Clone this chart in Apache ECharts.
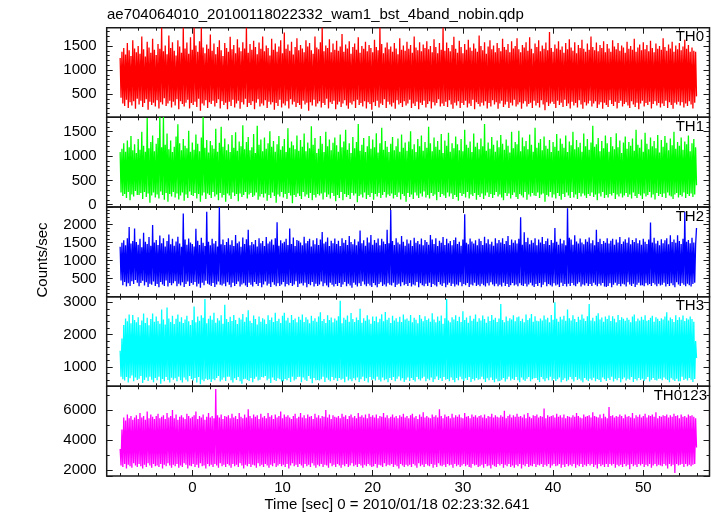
<!DOCTYPE html>
<html><head><meta charset="utf-8">
<script src="https://cdn.jsdelivr.net/npm/echarts@6/dist/echarts.min.js"></script>
<style>html,body{margin:0;padding:0;background:#fff}#c{width:717px;height:516px}</style>
</head><body><div id="c"></div>
<script>
const chartTitle = 'ae704064010_20100118022332_wam1_bst_4band_nobin.qdp';
const xAxisTitle = 'Time [sec] 0 = 2010/01/18 02:23:32.641';
const yAxisTitle = 'Counts/sec';
const bandNames = ['TH0', 'TH1', 'TH2', 'TH3', 'TH0123'];
const bandColors = ['#ff0000', '#00ff00', '#0000ff', '#00ffff', '#ff00ff'];
const timeStart = -8.0;
const timeStep = 0.1;

const th0 = [
1250,420,1380,300,1460,250,1320,380,1560,210,1410,330,1290,260,1620,350,1450,190,1370,400,
1500,280,1340,360,1700,230,1430,310,1280,390,1590,170,1470,340,1360,270,1650,320,1420,240,
1310,370,1540,200,1440,330,1880,280,1390,410,1510,250,1330,300,1720,360,1460,220,1580,340,
1400,260,1300,390,1620,180,1490,350,1360,290,1880,240,1450,320,1570,380,1340,200,1680,310,
1420,270,1880,340,1510,230,1380,400,1600,150,1880,300,1470,260,1350,370,1530,210,1440,330,
1740,290,1400,360,1550,240,1330,310,1480,390,1620,200,1410,350,1290,270,1560,320,1460,180,
1380,340,1690,250,1430,380,1520,220,1350,300,1640,360,1470,190,1390,330,1580,280,1450,400,
1880,230,1360,310,1540,270,1420,350,1610,180,1480,320,1330,390,1570,240,1440,300,1700,260,
1390,370,1510,210,1460,340,1300,280,1650,330,1420,170,1550,310,1380,250,1490,380,1620,220,
1350,300,1780,260,1440,350,1530,200,1400,390,1590,280,1320,340,1480,230,1660,310,1410,270,
1520,190,1450,360,1370,280,1620,320,1490,150,1560,330,1410,260,1340,380,1700,240,1470,300,
1430,350,1580,220,1880,310,1390,270,1510,400,1460,200,1640,330,1370,290,1550,360,1420,180,
1610,280,1400,340,1490,230,1750,300,1380,370,1530,260,1450,190,1600,320,1340,280,1480,350,
1550,210,1420,380,1680,270,1360,310,1500,240,1440,350,1590,200,1390,330,1520,290,1460,170,
1370,330,1630,250,1480,360,1410,220,1880,300,1540,270,1350,390,1470,210,1570,340,1430,280,
1490,240,1380,320,1560,190,1450,370,1330,280,1660,310,1420,230,1510,350,1400,260,1590,300,
1440,380,1520,210,1360,300,1700,250,1470,340,1410,180,1580,320,1390,270,1530,360,1460,220,
1600,290,1430,350,1500,200,1370,330,1640,260,1480,310,1350,390,1560,240,1420,300,1880,250,
1400,340,1570,230,1460,370,1390,280,1520,190,1690,320,1440,260,1360,350,1610,210,1480,310,
1350,270,1540,360,1420,220,1630,300,1470,250,1400,380,1550,180,1450,330,1380,290,1720,240,
1500,320,1410,260,1580,350,1340,200,1490,310,1620,240,1430,370,1510,280,1370,330,1560,190,
1460,300,1390,360,1650,230,1480,280,1420,340,1540,210,1370,320,1600,260,1450,380,1500,240,
1660,280,1430,330,1370,190,1520,300,1470,350,1580,240,1400,290,1680,320,1440,210,1350,360,
1550,260,1480,310,1620,220,1390,370,1510,280,1440,160,1570,330,1410,250,1790,300,1460,340,
1380,290,1530,210,1450,360,1600,270,1420,320,1490,230,1360,380,1560,250,1430,300,1640,200,
1470,340,1400,260,1580,310,1350,220,1520,370,1460,280,1630,190,1440,330,1380,260,1550,300,
1420,360,1700,240,1480,300,1410,350,1570,210,1390,280,1520,330,1460,190,1600,320,1370,270,
1540,230,1450,370,1380,290,1620,250,1490,340,1430,200,1560,310,1400,360,1510,240,1470,290,
1360,330,1590,260,1440,210,1500,350,1420,280,1650,230,1380,320,1470,180,1530,300,1410,360,
1580,240,1430,310,1520,270,1390,340,1610,200,1460,290,1370,350,1550,260,1440,310,1500,220,
1420,300,1660,250,1480,360,1400,210,1530,330,1450,270,1590,190,1380,320,1510,280,1430,340,
1560,260,1410,330,1490,220,1630,300,1440,250,1520,350,1380,280,1470,200,1400,320,1380,450
];
const th1 = [
1080,250,1150,180,1260,220,1090,140,1320,260,1180,90,1410,210,1120,170,1240,280,1060,200,
1350,200,1130,240,1500,120,1210,260,1090,160,1780,230,1160,40,1290,190,1420,250,1100,150,
1250,210,1370,130,1800,270,1180,200,1800,100,1230,240,1460,60,1140,220,1320,170,1080,260,
1190,150,1400,230,1650,110,1260,190,1120,250,1350,80,1210,210,1160,140,1520,270,1090,200,
1280,180,1130,240,1440,130,1250,220,1100,60,1380,190,1800,250,1170,120,1330,230,1070,200,
1310,140,1220,260,1150,170,1560,210,1090,90,1270,240,1600,150,1190,200,1360,60,1120,230,
1240,190,1080,120,1430,250,1170,180,1490,220,1110,70,1300,230,1200,160,1630,200,1140,260,
1290,130,1390,210,1120,240,1180,160,1450,190,1060,250,1620,100,1230,170,1340,220,1100,150,
1380,230,1150,80,1260,200,1510,140,1190,250,1310,180,1090,40,1240,210,1410,170,1130,260,
1200,150,1350,220,1080,120,1570,240,1170,190,1300,30,1220,200,1140,160,1420,230,1110,180,
1330,120,1190,260,1460,170,1100,210,1280,140,1160,240,1610,90,1230,200,1370,150,1060,220,
1150,190,1410,230,1250,110,1080,250,1500,160,1200,210,1340,130,1120,240,1270,180,1380,70,
1220,200,1090,140,1440,260,1180,90,1300,220,1540,160,1130,200,1260,120,1060,240,1390,190,
1160,230,1290,50,1660,180,1110,210,1230,150,1370,250,1080,120,1200,200,1410,160,1150,240,
1340,100,1180,220,1470,170,1070,240,1260,140,1580,200,1130,260,1310,150,1190,210,1080,180,
1250,230,1390,130,1120,200,1200,160,1360,250,1090,110,1440,220,1170,180,1280,60,1110,240,
1300,160,1510,210,1140,120,1240,250,1080,190,1350,140,1200,230,1420,170,1110,270,1290,150,
1170,200,1600,130,1260,240,1100,180,1380,210,1190,90,1310,260,1130,160,1450,220,1060,190,
1320,140,1210,250,1480,170,1090,230,1260,120,1160,200,1400,160,1240,80,1120,240,1350,180,
1100,220,1540,150,1230,260,1170,130,1300,210,1080,180,1460,240,1190,100,1270,200,1140,160,
1360,230,1200,120,1660,190,1110,250,1280,160,1150,220,1390,140,1230,200,1090,260,1320,170,
1180,210,1430,150,1250,90,1130,240,1340,180,1210,230,1070,130,1500,200,1160,250,1290,160,
1240,120,1520,220,1100,190,1380,150,1200,260,1310,100,1140,210,1440,170,1230,240,1090,190,
1580,180,1170,250,1270,140,1350,210,1120,230,1400,60,1210,200,1150,170,1330,260,1080,150,
1290,210,1190,130,1450,240,1110,180,1360,100,1250,220,1170,160,1420,250,1080,190,1300,140,
1220,260,1500,150,1140,210,1330,120,1180,240,1270,170,1090,230,1460,190,1200,140,1350,220,
1130,180,1280,250,1620,160,1190,210,1240,90,1370,230,1100,170,1310,260,1160,140,1420,200,
1260,150,1090,220,1390,190,1200,240,1140,120,1470,210,1180,170,1320,230,1060,150,1280,190,
1400,240,1150,160,1290,210,1210,130,1360,250,1110,180,1540,140,1230,220,1170,190,1340,120,
1090,230,1480,170,1250,200,1140,260,1380,150,1200,210,1310,110,1160,240,1430,180,1070,220,
1330,160,1190,230,1410,140,1270,250,1120,190,1360,170,1220,120,1500,210,1150,240,1290,150,
1210,200,1380,170,1130,250,1300,140,1240,220,1420,180,1100,230,1260,160,1350,210,1180,400
];
const th2 = [
1380,450,1490,320,1560,410,1420,280,1620,370,1930,300,1470,430,1540,350,1890,460,1510,390,
1440,290,1600,380,1370,440,1770,310,1520,400,1460,270,1650,360,1410,330,1980,420,1500,300,
1570,350,1430,260,1690,410,1480,340,1620,300,1390,450,1540,280,1720,380,1450,320,1600,370,
1410,430,1530,290,1660,360,1470,310,1380,400,2300,270,1580,350,1440,420,1610,300,1500,380,
1460,330,1390,410,1880,280,1550,360,1430,250,1630,390,1490,320,1400,440,2350,360,1520,330,
1420,300,1600,380,1470,270,1540,340,1390,420,2480,330,1450,310,1580,360,1430,290,1510,400,
1620,330,1440,260,1560,390,1400,300,1710,350,1480,420,1530,280,1380,340,1640,370,1460,310,
1590,270,1850,390,1420,330,1510,280,1450,410,1570,350,1390,300,1620,380,1480,260,1540,340,
1400,420,1650,310,1470,360,1530,270,1580,400,1440,330,1620,290,2060,370,1410,300,1560,340,
1480,410,1520,280,1600,350,1430,320,1890,380,1460,300,1640,340,1400,430,1570,270,1550,360,
1500,370,1420,310,1660,390,1480,260,1540,350,1600,320,1390,410,1560,280,1450,360,1620,300,
1430,340,1580,420,1790,290,1470,370,1520,310,1640,260,1400,390,1550,330,1480,280,1610,350,
1460,300,1550,380,1400,270,1620,340,1490,410,1570,290,1430,360,1680,310,1510,250,1450,390,
1590,330,1420,280,1530,370,1830,300,1480,420,1560,340,1410,290,1640,360,1500,310,1710,270,
1440,380,1570,320,1490,260,1610,350,1420,400,1600,300,1530,340,1460,280,1850,370,1480,330,
2400,310,1540,390,1430,270,1620,330,1500,360,1450,290,1680,400,1520,320,1410,350,1580,300,
1470,380,1560,280,1400,340,1630,310,1490,410,1540,260,1450,370,1610,320,1420,290,1570,360,
1510,300,1440,390,1710,270,1580,350,1460,320,1620,280,1400,410,1550,340,1490,300,1650,370,
1430,260,1600,330,1480,390,1540,300,1420,360,1570,280,1640,340,1460,310,1520,400,1410,290,
1580,350,2280,320,1490,380,1450,270,1610,340,1530,310,1470,390,1560,300,1420,330,1600,290,
1540,360,1430,320,1660,280,1480,370,1590,310,1450,400,1520,340,1410,290,1620,360,1480,290,
1570,330,1500,280,1620,390,1460,300,1540,350,1680,270,1430,320,1580,380,1490,310,1560,340,
1470,290,1600,370,2200,320,1440,300,1780,360,1510,280,1630,340,1450,390,1560,310,1490,270,
1620,350,1420,300,1580,380,1500,260,1650,330,1460,400,1540,290,1610,350,1430,320,1570,280,
1490,370,1900,310,1520,340,1440,270,1600,390,1470,300,1560,350,1420,280,2450,360,1630,300,
1580,380,1440,320,1700,290,1530,360,1470,400,1610,280,1500,340,1450,310,1590,370,1520,300,
1640,350,1480,300,1560,390,1420,330,1850,290,1510,360,1600,310,1460,380,1540,280,1490,270,
1620,300,1470,370,1550,260,1600,330,1440,390,1580,310,1500,350,1650,290,1460,360,1530,340,
1590,280,1490,400,1640,340,1450,300,1570,360,1510,270,1620,330,1480,390,1560,310,1440,320,
1600,290,1520,370,1460,320,1580,350,2050,300,1500,380,1630,340,1470,290,1550,360,1420,310,
1590,330,1480,390,1560,280,1620,350,1450,300,1700,370,1510,320,1580,260,1490,400,1700,340,
1540,300,1460,370,1600,330,2350,290,1520,360,1570,320,1480,280,1630,350,1500,390,1440,1900
];
const th3 = [
1500,700,1880,620,2300,580,2500,690,2410,520,2620,650,2350,740,2610,560,2450,680,2380,600,
2540,640,2300,720,2440,510,2650,600,2360,680,2520,570,2290,700,2480,610,2650,530,2400,660,
2560,590,2420,700,2340,480,2780,630,2470,560,2310,690,2840,600,2500,520,2390,670,2580,610,
2330,650,2490,560,2620,700,2400,590,2540,520,2360,680,2470,610,2580,550,2410,720,2300,630,
2450,580,2870,660,2380,520,2560,690,2430,470,2600,610,2520,560,3100,640,2350,600,2490,620,
2580,540,2460,620,2680,590,2370,660,2510,720,2440,550,2600,610,2340,680,2920,570,2480,700,
2390,700,2550,590,2420,520,2610,650,2450,600,2330,690,2520,560,2470,480,2640,620,2400,640,
2540,600,2750,570,2430,660,2360,530,2590,640,2480,700,2310,580,2560,610,2400,690,2510,680,
2470,720,2330,590,2600,640,2450,510,2530,680,2390,600,2680,570,2420,650,2490,620,2360,550,
2580,560,2680,630,2440,590,2520,660,2370,540,2610,700,2450,580,2500,620,2380,690,2550,700,
2460,530,2620,680,2390,610,2540,570,2470,720,2350,640,2580,500,2430,660,2510,590,2400,600,
2560,580,2690,620,2420,700,2480,540,2360,670,2600,610,2450,560,2530,690,2380,600,2500,650,
2440,570,2570,660,3050,610,2350,640,2520,530,2460,700,2590,580,2400,620,2670,560,2480,650,
2390,590,2530,680,2450,540,2800,620,2370,700,2510,570,2430,650,2600,520,2470,690,2340,600,
2560,640,2420,580,2560,700,2380,610,2490,550,2630,680,2410,590,2700,620,2460,530,2520,660,
2360,600,2580,690,2440,560,2510,640,2400,710,2550,580,2390,650,2620,540,2470,610,2500,680,
2430,570,2610,660,2380,600,2520,550,2460,690,2350,620,2610,580,2490,650,2410,700,2570,560,
2450,640,2500,590,2400,680,2660,540,2470,620,2380,710,2560,600,2430,650,2590,570,2340,690,
2510,610,3100,630,2440,560,2380,680,2540,600,2470,530,2600,660,2420,590,2550,700,2390,620,
2720,570,2450,650,2530,600,2370,690,2580,540,2430,630,2490,580,2620,660,2400,610,2510,620,
2440,700,2590,620,2480,540,2370,650,2560,590,2420,680,2610,600,2460,530,2520,640,2390,560,
2500,570,2950,610,2450,660,2380,550,2560,620,2430,700,2510,580,2470,640,2600,600,2410,690,
2540,590,2560,530,2420,680,2490,610,2380,570,2620,640,2450,690,2510,560,2640,620,2400,650,
2570,660,2430,600,2410,540,2500,690,2440,620,2590,560,2470,650,2520,590,2380,700,2610,580,
2460,640,3000,570,2490,620,2400,680,2550,530,2470,600,2580,650,2430,560,2780,610,2510,690,
2440,620,2600,550,2480,690,2390,600,2550,640,2460,580,2620,530,2500,660,2420,610,2570,570,
2950,640,2440,590,2520,670,2410,560,2580,630,2660,600,2470,540,2530,680,2400,620,2560,570,
2480,650,2590,600,2420,700,2570,550,2490,640,2380,590,2610,660,2450,530,2540,620,2490,680,
2430,580,2520,640,2460,610,2380,690,2560,540,2620,630,2410,580,2500,660,2440,600,2550,640,
2460,570,2600,620,2430,690,2450,550,2520,610,2580,660,2400,600,2540,580,2490,640,2420,640,
2510,590,2470,680,2560,620,2690,600,2440,530,2530,650,2480,610,2390,570,2600,640,2450,560,
2540,560,2460,700,2590,600,2420,640,2510,580,2470,660,2560,610,2480,540,2400,630,1800,1280
];
const th0123 = [
3400,2300,4700,2200,5500,2400,5300,2100,5700,2350,5450,2250,5600,2150,5350,2450,5500,2300,5650,2200,
5400,2400,5800,2250,5500,2100,5600,2350,5350,2200,5900,2450,5450,2300,5700,2150,5550,2400,5400,2250,
5600,2300,5750,2200,5450,2400,5550,2100,5650,2350,5400,2250,5800,2450,5500,2300,5600,2150,6000,2350,
5450,2250,5700,2400,5350,2150,5550,2300,5650,2200,5500,2450,5400,2350,5750,2100,5600,2300,5450,2250,
5550,2400,5650,2200,5900,2350,5400,2150,5600,2450,5500,2250,5700,2300,5350,2100,5550,2400,5800,2250,
5500,2350,5600,2200,5450,2400,7400,2300,5650,2150,5500,2450,5700,2250,5400,2350,5600,2200,5550,2400,
5650,2300,5450,2150,5750,2400,5500,2250,5600,2350,5400,2200,5800,2450,5550,2300,5450,2100,5700,2350,
5500,2250,6050,2400,5600,2200,5450,2350,5700,2300,5550,2150,5650,2450,5400,2250,5750,2350,5500,2200,
5600,2400,5450,2300,5800,2150,5550,2350,5650,2250,5400,2450,5700,2200,5500,2300,5600,2400,5900,2250,
5450,2350,5700,2200,5550,2400,5650,2100,5500,2300,5400,2450,5600,2250,5750,2350,5450,2200,5550,2400,
5800,2300,5500,2150,5650,2400,5450,2250,5700,2350,5550,2200,5600,2450,5400,2300,5750,2150,5500,2350,
5650,2250,5450,2400,5600,2200,5550,2350,6000,2300,5500,2150,5700,2450,5400,2250,5650,2350,5550,2200,
5500,2400,5600,2300,5450,2150,5750,2350,5550,2250,5650,2400,5400,2200,5600,2300,5700,2450,5500,2250,
5600,2350,5450,2200,5800,2400,5550,2300,5650,2150,5500,2350,5700,2250,5450,2400,5750,2300,5550,2200,
5650,2250,5500,2400,5700,2150,5450,2350,5600,2300,5550,2200,5800,2450,5500,2250,5650,2350,5450,2300,
5550,2400,5700,2200,5500,2350,5600,2250,5450,2100,5650,2400,5550,2300,5750,2200,5500,2350,5600,2250,
5450,2350,5650,2200,5750,2400,5500,2300,5600,2150,5400,2450,5700,2250,5550,2350,5850,2200,5500,2400,
5600,2300,5500,2250,5450,2400,5700,2150,5550,2350,5650,2200,5500,2450,6050,2300,5600,2250,5450,2350,
5700,2200,5550,2400,5600,2300,5450,2350,5750,2150,5500,2400,5650,2250,5550,2350,5700,2200,5500,2300,
5450,2400,5800,2250,5550,2350,5600,2200,5450,2150,5700,2400,5550,2300,5650,2350,5500,2200,5600,2250,
5650,2350,5500,2150,5700,2400,5450,2250,5600,2300,5550,2100,5750,2350,5500,2250,5650,2200,5550,2400,
5500,2300,5650,2400,5550,2150,5950,2350,5450,2250,5600,2400,5700,2200,5500,2300,5650,2150,5550,2350,
5750,2250,5550,2400,5600,2100,5500,2350,5700,2250,5450,2400,5800,2200,5550,2300,5450,2250,5650,2400,
5600,2200,5700,2350,5500,2300,5600,2400,5550,2200,6100,2350,5450,2250,5650,2400,5550,2150,5600,2300,
5650,2400,5500,2250,5750,2300,5550,2400,5650,2150,5500,2350,5700,2200,5450,2400,5600,2250,5550,2350,
5500,2250,5650,2400,5550,2150,5800,2350,5600,2250,5500,2400,5450,2200,5700,2350,5550,2250,5600,2400,
5650,2300,5500,2400,5850,2200,5600,2350,5550,2100,5500,2400,5700,2250,5450,2350,5750,2200,5550,2400,
5450,2200,6200,2400,5600,2300,5650,2400,5500,2150,5600,2350,5550,2250,5700,2350,5600,2200,5450,2400,
5700,2250,5550,2350,5600,2050,5500,2400,5800,2250,5450,2350,5650,2200,5550,2400,5700,2300,5500,2400,
5600,2200,5750,2350,5500,2250,5650,2400,5600,2150,5700,2300,5550,2400,5850,2250,5450,2350,5600,2300,
5550,2250,5650,2400,5600,2300,5700,2100,5500,2400,5650,2250,5550,2350,5750,1800,5600,2400,5650,2300,
5450,2350,5700,2400,5550,2200,5600,2400,5500,2250,5700,2350,5600,2250,5650,2350,5550,2400,5450,3500
];
const bandValues = [th0, th1, th2, th3, th0123];

const yRanges = [[13, 1881], [-47, 1794], [1, 2481], [403, 3173], [1600, 7580]];
const yMajorSteps = [500, 500, 500, 1000, 2000];
const yMinorSteps = [100, 100, 100, 200, 1000];
const xRange = [-9.49, 57.34];
const xMajorStep = 10;
const xMinorStep = 2;

// ---- layout / style ----
const FONT = '"Liberation Sans", Arial, Helvetica, sans-serif';
const INK = '#1a1a1a';
const plotLeft = 106.7, plotRight = 709.5, plotTop = 27.7, plotBottom = 476;
const panelH = (plotBottom - plotTop) / bandNames.length;
const labelRight = [13, 13, 13, 13, 10];

function isMult(v, s) { const r = v / s; return Math.abs(r - Math.round(r)) < 1e-6; }

const grids = [], xAxes = [], yAxes = [], series = [], titles = [];
titles.push({ text: chartTitle, left: 107, top: 7, padding: 0,
  textStyle: { fontFamily: FONT, fontSize: 15, fontWeight: 'normal', color: '#000' } });

bandNames.forEach((name, i) => {
  const top = plotTop + i * panelH;
  grids.push({ left: plotLeft, top: top, width: plotRight - plotLeft, height: panelH,
    show: true, borderColor: INK, borderWidth: 1.5, backgroundColor: 'rgba(0,0,0,0)' });
  ['bottom', 'top'].forEach(pos => {
    [[xMinorStep, 3, false], [xMajorStep, 6, true]].forEach(([step, len, major]) => {
      xAxes.push({
        type: 'value', gridIndex: i, position: pos, min: xRange[0], max: xRange[1],
        minInterval: step, maxInterval: step,
        splitNumber: Math.round((xRange[1] - xRange[0]) / step),
        axisLine: { show: false, onZero: false },
        axisTick: { show: true, inside: true, length: len, lineStyle: { color: INK, width: 1 } },
        splitLine: { show: false },
        axisLabel: { show: major && pos === 'bottom' && i === bandNames.length - 1,
          margin: 4, color: '#000', fontFamily: FONT, fontSize: 15,
          formatter: v => isMult(v, step) ? String(Math.round(v)) : '' }
      });
    });
  });
  ['left', 'right'].forEach(pos => {
    [[yMinorSteps[i], 3, false], [yMajorSteps[i], 6, true]].forEach(([step, len, major]) => {
      yAxes.push({
        type: 'value', gridIndex: i, position: pos, min: yRanges[i][0], max: yRanges[i][1],
        minInterval: step, maxInterval: step,
        splitNumber: Math.round((yRanges[i][1] - yRanges[i][0]) / step),
        axisLine: { show: false, onZero: false },
        axisTick: { show: true, inside: true, length: len, lineStyle: { color: INK, width: 1 } },
        splitLine: { show: false },
        axisLabel: { show: major && pos === 'left', margin: 10, color: '#000',
          fontFamily: FONT, fontSize: 15,
          formatter: v => isMult(v, step) ? String(Math.round(v)) : '' }
      });
    });
  });
  titles.push({ text: name, right: labelRight[i], top: top + 2, padding: 0,
    textStyle: { fontFamily: FONT, fontSize: 15, fontWeight: 'normal', color: '#000' } });
  series.push({
    type: 'line', name: name, xAxisIndex: i * 4 + 1, yAxisIndex: i * 4 + 1,
    data: bandValues[i].map((v, k) => [timeStart + k * timeStep, v]),
    showSymbol: false, symbol: 'none', sampling: null, clip: true, silent: true,
    lineStyle: { color: bandColors[i], width: 1.3, join: 'bevel' }, itemStyle: { color: bandColors[i] },
    z: 3
  });
});

const chart = echarts.init(document.getElementById('c'), null, { renderer: 'canvas' });
chart.setOption({
  animation: false,
  backgroundColor: '#ffffff',
  title: titles,
  grid: grids,
  xAxis: xAxes,
  yAxis: yAxes,
  series: series,
  graphic: [
    { type: 'text', x: 397, y: 505, silent: true,
      style: { text: xAxisTitle, textAlign: 'center', textVerticalAlign: 'middle',
        font: '15px ' + FONT, fill: '#000' } },
    { type: 'text', x: 43, y: 260, rotation: Math.PI / 2, silent: true,
      style: { text: yAxisTitle, textAlign: 'center', textVerticalAlign: 'middle',
        font: '15px ' + FONT, fill: '#000' } }
  ]
});
</script>
</body></html>
